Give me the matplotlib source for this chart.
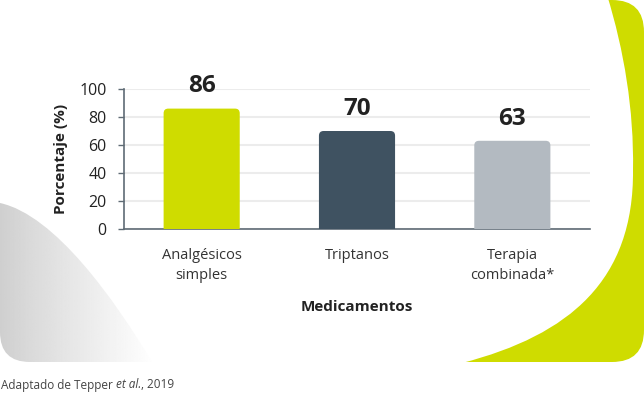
import numpy as np
import matplotlib.pyplot as plt
from matplotlib.patches import FancyBboxPatch, PathPatch
from matplotlib.path import Path

plt.rcParams['font.family'] = ['Open Sans', 'DejaVu Sans']

# datos
categorias = ['Analgésicos\nsimples', 'Triptanos', 'Terapia\ncombinada*']
porcentajes = [86, 70, 63]
colores = ['#cfdc00', '#3f5261', '#b3bac1']
yticks = [0, 20, 40, 60, 80, 100]

fig = plt.figure(figsize=(6.44, 3.94), dpi=100)

# fondo decorativo (coordenadas en pixeles)
bg = fig.add_axes([0, 0, 1, 1], zorder=0)
bg.set_xlim(0, 644)
bg.set_ylim(394, 0)
bg.axis('off')

lima = FancyBboxPatch((420, 0), 224, 362, boxstyle='round,pad=0,rounding_size=32',
                      fc='#cfdc00', ec='none', zorder=1)
bg.add_patch(lima)
verts = [(0, -5), (607, -5), (624, 50), (634, 110), (633, 170),
         (634, 280), (570, 335), (462, 363), (0, 363), (0, -5)]
codes = [Path.MOVETO, Path.LINETO, Path.CURVE4, Path.CURVE4, Path.CURVE4,
         Path.CURVE4, Path.CURVE4, Path.CURVE4, Path.LINETO, Path.CLOSEPOLY]
bg.add_patch(PathPatch(Path(verts, codes), fc='white', ec='none', zorder=1))

# mancha gris con degradado
gverts = [(0, 203), (55, 215), (115, 300), (152, 362), (30, 362), (0, 362), (0, 332), (0, 203)]
gcodes = [Path.MOVETO, Path.CURVE4, Path.CURVE4, Path.CURVE4, Path.LINETO,
          Path.CURVE3, Path.CURVE3, Path.CLOSEPOLY]
gpatch = PathPatch(Path(gverts, gcodes), fc='none', ec='none', zorder=2)
bg.add_patch(gpatch)
gx = np.linspace(0, 1, 200)
grad = 0.81 + 0.19 * np.tile(gx, (50, 1)) ** 0.9
im = bg.imshow(grad, extent=(0, 155, 365, 200), cmap='gray', vmin=0, vmax=1,
               aspect='auto', interpolation='bilinear', zorder=3)
im.set_clip_path(gpatch)
bg.set_xlim(0, 644)
bg.set_ylim(394, 0)

# grafico
ax = fig.add_axes([124 / 644, 1 - 229 / 394, 466 / 644, 140 / 394], zorder=1)
ax.set_facecolor('none')
x = np.arange(len(categorias))
bars = ax.bar(x, porcentajes, width=0.49, color='none')
ax.set_xlim(-0.5, 2.5)
ax.set_ylim(0, 100)

for b, c in zip(bars, colores):
    p = FancyBboxPatch((b.get_x(), -5), b.get_width(), b.get_height() + 5,
                       boxstyle='round,pad=0,rounding_size=0.03', mutation_aspect=111,
                       fc=c, ec='none', zorder=3)
    ax.add_patch(p)
    ax.annotate(str(int(b.get_height())), (b.get_x() + b.get_width() / 2, b.get_height()),
                xytext=(0, 16), textcoords='offset points', ha='center', va='center',
                fontsize=17.5, fontweight='bold', color='#222222', annotation_clip=False)

ax.set_yticks(yticks)
ax.set_xticks(x)
ax.set_xticklabels(categorias, fontsize=10.5, color='#333333', linespacing=1.4)
ax.tick_params(axis='x', length=0, pad=14)
ax.tick_params(axis='y', length=4.5, width=1, color='#5f6b75', pad=8, labelsize=11.5,
               labelcolor='#222222')
ax.yaxis.grid(True, color='#ececec', lw=1.5, zorder=0)
ax.set_axisbelow(True)
for s in ['top', 'right']:
    ax.spines[s].set_visible(False)
for s in ['left', 'bottom']:
    ax.spines[s].set_color('#5f6b75')
    ax.spines[s].set_linewidth(1.2)

ax.set_ylabel('Porcentaje (%)', fontsize=11, fontweight='bold', color='#222222', labelpad=8)
ax.set_xlabel('Medicamentos', fontsize=11, fontweight='bold', color='#222222', labelpad=12)

# nota
t1 = bg.text(1, 385, 'Adaptado de Tepper ', fontsize=8.5, color='#444444',
             va='center', ha='left')
t2 = bg.annotate('et al.', xy=(1, 0.5), xycoords=t1, va='center', ha='left',
                 fontsize=8.5, color='#444444', style='italic')
bg.annotate(', 2019', xy=(1, 0.5), xycoords=t2, va='center', ha='left',
            fontsize=8.5, color='#444444')

fig.savefig('out.png', dpi=100)
